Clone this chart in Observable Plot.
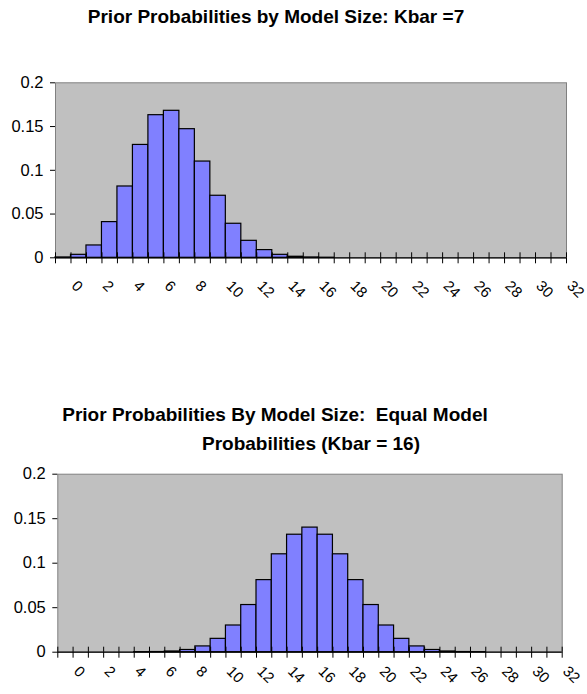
<!DOCTYPE html>
<html><head><meta charset="utf-8">
<script src="https://cdn.jsdelivr.net/npm/d3@7"></script>
<script src="https://cdn.jsdelivr.net/npm/@observablehq/plot@0.6"></script>
<style>
body{margin:0;background:#fff;}
#page{position:relative;width:587px;height:694px;overflow:hidden;font-family:"Liberation Sans",Arial,sans-serif;background:#fff;}
.title{position:absolute;font-weight:bold;font-size:19px;line-height:22px;white-space:pre;transform:translateX(-50%);color:#000;}
.chart{position:absolute;left:0;}
</style></head>
<body><div id="page">
<div class="title" style="left:276px;top:6px">Prior Probabilities by Model Size: Kbar =7</div>
<div class="title" style="left:275px;top:404px">Prior Probabilities By Model Size:  Equal Model</div>
<div class="title" style="left:311px;top:433px">Probabilities (Kbar = 16)</div>
<div class="chart" id="c1" style="top:0px"></div>
<div class="chart" id="c2" style="top:330px"></div>
</div>
<script>
const modelSize = [0,1,2,3,4,5,6,7,8,9,10,11,12,13,14,15,16,17,18,19,20,21,22,23,24,25,26,27,28,29,30,31,32];
const priorKbar7 = [0.0004,0.0034,0.0141,0.0408,0.0815,0.129,0.163,0.168,0.147,0.110,0.0709,0.0389,0.0194,0.0088,0.0034,0.0012,0.0004,0.0001,0,0,0,0,0,0,0,0,0,0,0,0,0,0,0];
const priorKbar16 = [0,0,0,0,0,0.00005,0.0002,0.0008,0.0025,0.0065,0.015,0.030,0.053,0.081,0.110,0.132,0.140,0.132,0.110,0.081,0.053,0.030,0.015,0.0065,0.0025,0.0008,0.0002,0.00005,0,0,0,0,0];
const xTickLabels = ["0","2","4","6","8","10","12","14","16","18","20","22","24","26","28","30","32"];
const yTicks = [0,0.05,0.1,0.15,0.2];
const yTickLabels = ["0","0.05","0.1","0.15","0.2"];
const binEdges = [...modelSize, 33];

function chart(values, o) {
  const data = modelSize.map((k, i) => ({k, p: values[i]}));
  return Plot.plot({
    width: 587, height: o.height,
    marginLeft: o.ml, marginRight: o.mr, marginTop: o.mt, marginBottom: o.mb,
    style: {fontFamily: '"Liberation Sans", Arial, sans-serif', fontSize: "16px", background: "transparent", overflow: "visible", color: "black"},
    x: {type: "linear", domain: [0, 33], axis: null},
    y: {domain: [0, 0.2], axis: null},
    marks: [
      Plot.frame({fill: "#C0C0C0", stroke: "#808080"}),
      Plot.rectY(data, {x1: "k", x2: d => d.k + 1, y: "p", fill: "#8080FF", stroke: "black", strokeWidth: 1.2}),
      Plot.ruleY([0], {stroke: "black", strokeWidth: 1.3}),
      Plot.axisY({ticks: yTicks, tickFormat: d => yTickLabels[yTicks.indexOf(d)], tickSize: 5, tickPadding: 7, line: true, label: null, stroke: "black", fill: "black", fontSize: 16.5}),
      Plot.axisX({ticks: binEdges, tickFormat: () => "", tickSize: 6, label: null, stroke: "black"}),
      Plot.axisX({ticks: binEdges, tickFormat: () => "", tickSize: -5, label: null, stroke: "black"}),
      Plot.text(xTickLabels, {x: d => +d + 0.5, frameAnchor: "bottom", text: d => d, rotate: 45, textAnchor: "start", dx: 7.5, dy: o.ldy, fill: "black", fontSize: 15})
    ]
  });
}

document.getElementById("c1").appendChild(chart(priorKbar7, {height: 330, ml: 55, mr: 21, mt: 82.3, mb: 72.7, ldy: 29}));
document.getElementById("c2").appendChild(chart(priorKbar16, {height: 364, ml: 57.3, mr: 25.3, mt: 143.7, mb: 42.3, ldy: 20}));
</script>
</body></html>
